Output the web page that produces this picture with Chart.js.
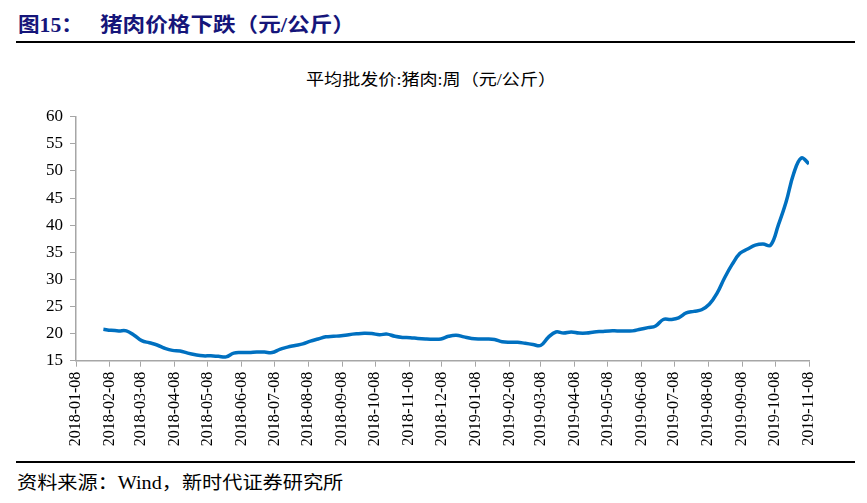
<!DOCTYPE html>
<html>
<head>
<meta charset="utf-8">
<script src="https://cdn.jsdelivr.net/npm/chart.js@4/dist/chart.umd.min.js"></script>
<style>
  body { margin: 0; background: #fff; width: 867px; height: 503px; position: relative; overflow: hidden; }
  #title { position: absolute; left: 18px; top: 9px; font: bold 20px "Liberation Serif", "Noto Sans CJK SC", serif; color: #15157a; white-space: nowrap; }
  #title .t1 { display: inline-block; transform: scaleX(1.08); transform-origin: left center; }
  #title .t2 { display: inline-block; position: absolute; left: 82px; transform: scaleX(1.13); transform-origin: left center; }
  .rule { position: absolute; left: 16px; right: 12px; height: 2px; background: #000; }
  #subtitle { position: absolute; left: 306px; top: 66px; font: 16px "Liberation Serif", "Noto Sans CJK SC", serif; color: #000; white-space: nowrap; transform: scaleX(1.13); transform-origin: left center; }
  #source { position: absolute; left: 17px; top: 468px; font: 18px "Liberation Serif", "Noto Sans CJK SC", serif; color: #000; white-space: nowrap; transform: scaleX(1.12); transform-origin: left center; }
  #wrap { position: absolute; left: 0; top: 50px; width: 867px; height: 410px; }
</style>
</head>
<body>
<div id="title"><span class="t1">图15：</span><span class="t2">猪肉价格下跌（元/公斤）</span></div>
<div class="rule" style="top:41px"></div>
<div id="subtitle">平均批发价:猪肉:周（元/公斤）</div>
<div id="wrap"><canvas id="myChart"></canvas></div>
<div class="rule" style="top:461px"></div>
<div id="source">资料来源：Wind，新时代证券研究所</div>

<script>
// x axis tick labels (monthly)
const tickLabels = ['2018-01-08', '2018-02-08', '2018-03-08', '2018-04-08', '2018-05-08', '2018-06-08',
  '2018-07-08', '2018-08-08', '2018-09-08', '2018-10-08', '2018-11-08', '2018-12-08',
  '2019-01-08', '2019-02-08', '2019-03-08', '2019-04-08', '2019-05-08', '2019-06-08',
  '2019-07-08', '2019-08-08', '2019-09-08', '2019-10-08', '2019-11-08'];
const yTicks = [15, 20, 25, 30, 35, 40, 45, 50, 55, 60];

// weekly series, first week 2018-02-02
const firstWeek = '2018-02-02';
const prices = [
  20.8, 20.6, 20.5, 20.5, 19.7, 18.7, 18.3, 17.9, 17.3, 16.9,
  16.8, 16.4, 16.1, 15.9, 15.9, 15.8, 15.7, 16.4, 16.5, 16.5,
  16.6, 16.6, 16.5, 17.1, 17.5, 17.8, 18.1, 18.6, 19.0, 19.4,
  19.5, 19.6, 19.8, 19.95, 20.05, 20.0, 19.8, 19.9, 19.5, 19.3,
  19.25, 19.1, 19.0, 18.95, 19.0, 19.5, 19.7, 19.4, 19.1, 19.0,
  19.0, 18.9, 18.5, 18.4, 18.4, 18.2, 18.0, 17.8, 19.3, 20.3,
  20.1, 20.3, 20.1, 20.1, 20.3, 20.4, 20.5, 20.5, 20.5, 20.5,
  20.8, 21.1, 21.4, 22.6, 22.6, 22.9, 23.8, 24.1, 24.4, 25.4,
  27.4, 30.3, 32.8, 34.8, 35.6, 36.3, 36.5, 36.3, 40.0, 44.2,
  49.5, 52.4, 51.3
];

// days since the first tick label
const day0 = Date.parse(tickLabels[0]);
function dayOf(s) { return (Date.parse(s) - day0) / 86400000; }
const tickDays = tickLabels.map(dayOf);
const start = dayOf(firstWeek);
const points = prices.map((v, i) => ({ x: start + 7 * i, y: v }));

const axisGrey = '#a6a6a6';
const tickFont = { family: 'Liberation Serif', size: 17 };

const config = {
  type: 'line',
  data: {
    datasets: [{
      label: '平均批发价:猪肉:周',
      data: points,
      borderColor: '#0070C0',
      borderWidth: 3.5,
      pointRadius: 0,
      tension: 0.4,
      fill: false
    }]
  },
  options: {
    responsive: true,
    maintainAspectRatio: false,
    animation: false,
    layout: { padding: { left: 0, right: 58, top: 66.7, bottom: 0 } },
    plugins: { legend: { display: false }, tooltip: { enabled: false } },
    scales: {
      x: {
        type: 'linear',
        min: tickDays[0],
        max: tickDays[tickDays.length - 1],
        afterBuildTicks: (scale) => { scale.ticks = tickDays.map(v => ({ value: v })); },
        afterFit: (scale) => { scale.height = 99.3; },
        grid: { drawOnChartArea: false, tickLength: 6, color: axisGrey },
        border: { color: axisGrey, width: 1.5 },
        ticks: {
          color: '#000',
          font: { family: 'Liberation Serif', size: 16 },
          minRotation: 90,
          maxRotation: 90,
          padding: 5,
          autoSkip: false,
          callback: (v, i) => tickLabels[i]
        }
      },
      y: {
        min: 15,
        max: 60,
        afterBuildTicks: (scale) => { scale.ticks = yTicks.map(v => ({ value: v })); },
        afterFit: (scale) => { scale.width = 76; },
        grid: { drawOnChartArea: false, tickLength: 6, color: axisGrey },
        border: { color: axisGrey, width: 1.5 },
        ticks: { color: '#000', font: tickFont, padding: 7 }
      }
    }
  }
};

const myChart = new Chart(document.getElementById('myChart'), config);
</script>
</body>
</html>
